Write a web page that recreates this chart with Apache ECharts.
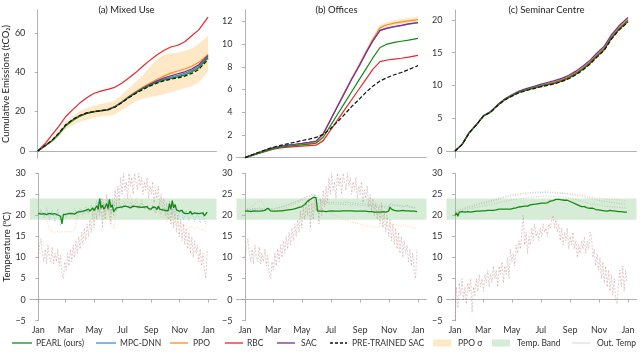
<!DOCTYPE html>
<html><head><meta charset="utf-8">
<script src="https://cdn.jsdelivr.net/npm/echarts@6/dist/echarts.min.js"></script>
<style>html,body{margin:0;padding:0;background:#fff}#c{width:640px;height:353px}</style>
</head><body><div id="c"></div>
<script>
// ---------- DATA ----------
const monthTicks = [0, 59, 120, 181, 243, 304, 365];
const monthLabels = ['Jan', 'Mar', 'May', 'Jul', 'Sep', 'Nov', 'Jan'];
const panelTitles = ['(a) Mixed Use', '(b) Offices', '(c) Seminar Centre'];

// Cumulative emissions, sampled days
const emDays = [0,15,30,45,60,75,90,105,120,135,150,165,180,195,210,225,240,255,270,285,300,315,330,345,365];
// (a) Mixed Use
const a_pearl = [0,2.5,5,8.5,12.8,15.5,17.6,19,19.8,20.3,20.8,22.3,24.6,27.2,29.5,31.6,33.3,34.8,36,36.9,37.6,38.6,40.2,42.3,47.3];
const a_mpc   = [0,2.4,5,8.6,12.9,15.6,17.7,19.1,19.9,20.4,20.9,22.4,24.7,27.3,29.6,31.8,33.6,35.2,36.5,37.5,38.4,39.4,40.9,43.1,47.9];
const a_ppo   = [0,2.5,5.1,8.7,13,15.8,17.9,19.3,20.1,20.6,21.1,22.6,25,27.7,30,32.4,34.4,36.3,38,39.5,40.6,41.6,43,45,49];
const a_rbc   = [0,3.5,8,12.5,17.5,21,24.3,27,29.2,30.4,31.3,32.3,34.4,37,39.8,43,46,48.7,51,52.8,53.7,55.5,58.5,61.5,68];
const a_sac   = [0,2.5,5.1,8.6,12.9,15.7,17.8,19.2,20,20.5,21,22.5,24.8,27.5,29.8,32,33.9,35.6,37,38.2,39.2,40.2,41.6,43.8,48.5];
const a_pre   = [0,2.6,5.3,9,13.3,16,18,19.3,20,20.4,20.8,22.2,24.5,27,29.2,31.2,32.9,34.4,35.6,36.4,37.1,38,39.4,41.4,46.5];
const a_ppoLo = [0,2,4,7,11,13.2,14.8,15.8,16.8,17.5,17.8,18.5,20.6,23,25.2,26.5,27.3,28,28.8,29.8,30.8,31.8,33,34.8,40.3];
const a_ppoHi = [0,3,6.2,10.2,15,17.8,20.2,21.8,23,23.8,24.5,25.8,28.5,31.8,35,38.5,42.5,46.3,48.8,49.5,50,50.8,52,54.5,58.5];
// (b) Offices
const b_pearl = [0,0.2,0.4,0.6,0.8,0.92,1.0,1.07,1.13,1.2,1.27,1.8,2.8,3.8,4.8,5.8,6.8,7.8,8.8,9.7,10.0,10.15,10.25,10.35,10.5];
const b_mpc   = [0,0.24,0.44,0.68,0.86,0.98,1.08,1.16,1.24,1.33,1.43,2.1,3.3,4.5,5.7,6.9,8.0,9.2,10.3,11.2,11.38,11.52,11.63,11.75,11.87];
const b_ppo   = [0,0.22,0.42,0.65,0.82,0.93,1.02,1.1,1.18,1.26,1.36,2.05,3.3,4.55,5.75,6.95,8.1,9.3,10.45,11.45,11.7,11.85,11.95,12.05,12.15];
const b_rbc   = [0,0.2,0.4,0.58,0.75,0.85,0.92,0.98,1.02,1.06,1.1,1.5,2.4,3.3,4.2,5.1,6.0,6.9,7.8,8.45,8.6,8.68,8.75,8.85,9.0];
const b_sac   = [0,0.25,0.45,0.7,0.88,1.0,1.1,1.18,1.26,1.35,1.45,2.1,3.3,4.5,5.7,6.9,8.0,9.2,10.3,11.2,11.4,11.55,11.65,11.78,11.9];
const b_pre   = [0,0.25,0.5,0.72,0.92,1.08,1.22,1.36,1.5,1.63,1.78,2.05,2.55,3.15,3.8,4.5,5.1,5.75,6.3,6.75,7.05,7.3,7.5,7.75,8.1];
const b_ppoLo = [0,0.2,0.39,0.61,0.77,0.88,0.96,1.04,1.11,1.18,1.28,1.95,3.2,4.43,5.62,6.8,7.93,9.1,10.25,11.2,11.45,11.6,11.7,11.8,11.9];
const b_ppoHi = [0,0.24,0.45,0.69,0.87,0.98,1.08,1.16,1.25,1.34,1.44,2.15,3.4,4.67,5.88,7.1,8.27,9.5,10.68,11.7,11.95,12.1,12.2,12.3,12.4];
// (c) Seminar Centre
const c_pearl = [0,1.0,2.8,4.0,5.35,5.95,7.0,7.85,8.45,8.98,9.32,9.62,9.9,10.15,10.4,10.75,11.2,11.8,12.55,13.45,14.55,15.55,17.25,18.55,19.85];
const c_mpc   = [0,1.0,2.8,4.0,5.35,5.95,7.0,7.85,8.46,9.0,9.36,9.66,9.96,10.22,10.48,10.83,11.28,11.9,12.65,13.55,14.65,15.66,17.36,18.66,19.98];
const c_ppo   = [0,1.0,2.8,4.0,5.36,5.97,7.02,7.88,8.5,9.06,9.42,9.73,10.04,10.3,10.56,10.92,11.38,12.0,12.75,13.65,14.75,15.78,17.48,18.8,20.1];
const c_rbc   = [0,1.0,2.78,3.98,5.33,5.92,6.96,7.8,8.4,8.92,9.26,9.55,9.83,10.08,10.32,10.66,11.1,11.7,12.45,13.34,14.44,15.44,17.14,18.44,19.75];
const c_sac   = [0,1.0,2.82,4.03,5.4,6.02,7.08,7.95,8.58,9.14,9.52,9.84,10.16,10.44,10.72,11.08,11.55,12.18,12.95,13.86,14.98,16.0,17.7,19.02,20.35];
const c_pre   = [0,0.98,2.77,3.97,5.32,5.9,6.94,7.77,8.36,8.88,9.2,9.48,9.76,10.0,10.24,10.58,11.02,11.62,12.36,13.25,14.35,15.35,17.05,18.35,19.65];

// Temperatures: day grid every 3 days (PEARL, outdoor) and every 6 days (other agents)
const tDays3 = Array.from({length: 122}, (_, i) => i * 3);
const tDays6 = Array.from({length: 61}, (_, i) => i * 6);
const outTempAB = [10,13,14.5,11,9,12,8.5,13,10,9, 12.5,8.5,11,9,12,8,10.5,6,5,9, 7,11,8,12,9,13,10,14,11,15, 12,16,13,17,14,18,15,19,16,21, 17,22,19,23,20,24,17,23,19,25, 21,23,18,24,20,26,22,27,23,29, 25,30,26,28,24,30,27,29,25,30, 28,26,30,27,29,25,28,26,29,24, 27,25,28,23,26,24,27,22,25,21, 24,20,23,19,22,18,23,17,21,16, 20,15,19,14,18,13,17,12,16,11, 15,10,14,11,13,9,12,8,11,7, 5,12];
const outTempC = [-5,3,-2,4,1,5,0,3,-1,4, 2,5,-3,3,1,5,2,6,3,5, 2,6,4,7,3,6,4,8,5,7, 3,8,6,9,4,8,6,10,5,12, 9,11,8,13,11,14,12,16,20,13, 16,11,15,13,17,14,18,15,16,14, 17,15,18,16,17,15,18,17,19,20, 17,19,16,18,14,17,13,16,14,17, 12,15,13,16,12,14,10,13,11,14, 12,15,11,14,12,16,15,10,12,8, 11,7,10,5,9,4,8,3,7,2, 6,1,5,0,-1,4,7,3,8,2, 7,4];

const ta_pearl = [20.5,20.8,20.3,20.6,20.4,20.7,20.2,20.6,20.5,20.9,20.3,20.6,20.4,20.8,20.1,20.5,19.8,18.0,20.2,20.5,
  20.3,20.6,20.4,20.8,20.5,20.7,20.3,20.6,20.8,20.5,20.9,20.6,21.0,20.7,21.2,20.9,21.5,21.0,21.3,21.8,
  21.2,21.6,22.3,21.4,24.0,21.8,22.4,21.5,22.0,22.8,21.6,23.8,21.9,22.5,20.9,21.3,21.8,21.5,21.9,21.7,
  22.0,21.8,22.2,21.9,22.1,22.3,21.8,22.0,22.2,21.9,22.1,21.8,22.0,22.3,21.9,21.7,22.0,21.8,22.1,21.6,
  21.8,21.5,22.0,21.6,21.9,21.4,22.2,21.5,21.8,21.3,21.7,21.2,21.6,21.1,22.8,21.5,23.5,21.8,22.6,21.3,
  21.6,21.0,20.7,21.2,20.6,20.9,20.4,20.8,20.5,21.0,20.3,20.7,20.6,20.9,20.4,20.8,20.5,20.2,20.6,19.9,20.3,20.8];
const ta_mpc = [20.0,21.5,19.5,21.8,19.0,21.2,18.5,21.5,17.5,20.5, 19.5,21.0,19.8,21.6,20.0,21.8,20.3,22.0,20.5,22.4,
  21.0,23.5,20.8,24.0,21.5,23.8,20.5,23.0,21.2,22.8, 21.5,23.0,22.0,23.2,21.8,22.8,21.5,23.0,21.6,22.5,
  21.0,22.5,20.6,22.0,20.2,21.8,19.8,23.5,20.0,22.5, 19.5,21.5,19.0,21.2,18.8,21.0,18.5,20.8,18.2,20.5,17.8];
const ta_ppo = [20.5,21.0,20.0,19.0,16.5,16.2,16.0,16.1,16.0,16.2, 16.0,16.3,16.1,16.5,19.5,20.5,20.0,21.0,20.5,21.5,
  21.0,22.5,21.5,23.0,20.0,22.0,17.5,16.8,21.5,22.5, 22.5,24.5,23.0,24.8,22.5,24.0,22.0,23.5,21.5,22.0,
  21.0,21.5,20.5,21.0,19.5,20.0,18.5,19.5,18.0,18.5, 17.8,18.2,17.5,17.8,17.0,17.5,16.8,17.2,16.5,16.8,16.2];
const ta_sac = [20.3,20.8,20.1,20.6,19.9,20.4,20.0,20.5,19.7,20.2, 20.0,20.4,20.2,20.6,20.3,20.8,20.5,21.0,20.7,21.2,
  21.0,21.8,21.3,22.2,21.5,22.0,21.2,21.8,21.4,22.0, 21.8,22.3,22.0,22.4,21.9,22.2,21.8,22.1,21.7,22.0,
  21.5,21.8,21.3,21.6,21.1,21.4,20.9,21.8,21.0,21.5, 20.8,21.1,20.6,20.9,20.4,20.7,20.3,20.6,20.2,20.5,20.0];

const tb_pearl = [21.0,21.0,21.1,21.0,20.9,21.0,21.1,21.0,21.0,21.1,21.0,21.0,21.1,21.0,21.2,21.3,21.7,21.3,21.1,21.0,
  21.0,21.1,21.0,21.1,21.1,21.2,21.1,21.2,21.2,21.3,21.3,21.4,21.4,21.5,21.5,21.6,21.7,21.8,21.9,22.0,
  22.1,22.3,22.6,23.0,23.4,23.7,23.8,24.0,24.3,24.5,24.2,21.0,20.9,21.0,20.9,21.0,21.0,20.9,21.0,21.0,
  21.0,21.1,21.0,21.0,21.1,21.0,21.1,21.0,21.2,21.1,21.0,21.1,21.0,21.1,21.0,21.1,21.0,21.0,21.1,21.0,
  21.0,21.0,20.9,21.0,20.9,21.0,20.9,20.9,21.0,20.9,20.9,20.8,20.9,20.8,20.9,20.8,20.8,20.9,20.8,20.8,
  20.8,21.0,22.0,21.5,21.3,21.2,21.2,21.1,21.2,21.1,21.1,21.2,21.1,21.1,21.0,21.1,21.0,21.0,21.1,21.0,21.0,20.9];
const tb_mpc = [21.3,21.6,21.4,21.7,21.5,21.8,21.6,21.5,21.7,21.6, 21.5,21.8,21.9,22.1,22.3,22.6,22.8,23.1,23.3,23.6,
  23.9,24.2,24.5,24.8,25.0,24.7,24.0,23.6,23.3,23.2, 23.0,23.2,23.0,23.1,22.9,23.0,23.2,22.9,23.0,22.8,
  22.9,22.7,22.8,22.6,22.7,22.5,22.4,22.5,22.3,22.2, 22.0,22.8,22.6,22.4,22.5,22.3,22.2,22.4,22.1,22.0,21.8];
const tb_ppo = [21.0,21.5,22.0,22.5,23.0,23.5,23.2,22.0,21.5,21.0, 20.8,21.0,21.2,21.5,21.8,22.0,22.3,22.6,22.9,23.2,
  23.5,23.8,24.0,23.5,22.5,22.0,21.5,21.2,21.0,20.8, 20.5,20.2,19.9,19.6,19.3,19.0,18.8,18.6,18.4,18.2,
  18.0,17.8,17.6,17.5,17.3,17.2,17.1,17.3,17.5,17.8, 18.0,17.8,17.7,17.9,17.6,17.5,17.8,17.4,17.3,17.1,16.9];
const tb_sac = [21.2,21.4,21.3,21.5,21.4,21.6,21.5,21.4,21.6,21.5, 21.4,21.6,21.8,22.0,22.2,22.4,22.7,23.0,23.2,23.5,
  23.8,24.1,24.4,24.6,24.8,24.5,23.6,23.0,22.7,22.8, 22.6,22.8,22.5,22.7,22.6,22.5,22.7,22.4,22.6,22.4,
  22.5,22.3,22.4,22.2,22.3,22.1,22.0,22.1,21.9,21.8, 21.6,22.5,22.3,22.2,22.3,22.0,22.1,22.2,21.9,21.8,21.6];

const tc_pearl = [20.0,20.6,19.8,20.8,20.5,20.9,20.6,20.8,20.7,20.9,20.6,20.8,20.7,20.9,20.8,21.0,20.8,21.0,20.9,21.1,
  21.0,21.1,21.0,21.2,21.1,21.2,21.3,21.2,21.4,21.3,21.4,21.5,21.4,21.5,21.4,21.5,21.6,21.5,21.6,21.5,
  21.6,21.7,21.6,21.8,21.9,22.0,21.9,22.1,22.0,22.2,22.3,22.2,22.4,22.5,22.4,22.6,22.5,22.7,22.6,22.8,
  22.8,22.9,23.0,22.9,23.1,23.0,23.2,23.4,23.3,23.5,23.7,23.8,23.7,23.8,23.9,23.7,23.8,23.6,23.5,23.6,
  23.4,23.3,23.1,23.0,22.8,22.7,22.5,22.4,22.3,22.1,22.0,22.1,21.9,21.8,21.9,21.7,21.6,21.7,21.5,21.4,
  21.5,21.3,21.4,21.2,21.3,21.1,21.2,21.0,21.1,21.2,21.0,21.1,20.9,21.0,21.1,20.9,21.0,20.9,21.0,20.8,20.9,20.8];
const tc_ppo = [21.0,21.3,21.5,21.8,22.0,22.2,22.4,22.6,22.8,23.0, 23.1,23.3,23.5,23.6,23.8,24.0,24.2,24.4,24.6,24.8,
  24.9,25.0,25.1,25.2,25.3,25.4,25.4,25.5,25.5,25.6, 25.6,25.6,25.7,25.6,25.6,25.5,25.5,25.4,25.4,25.3,
  25.2,25.2,25.1,25.0,24.9,24.8,24.7,24.5,24.4,24.3, 24.2,24.1,24.0,23.9,23.9,23.8,23.8,23.7,23.7,23.6,23.6];
const tc_mpc = [20.8,21.1,21.3,21.5,21.7,21.9,22.1,22.3,22.5,22.7, 22.8,23.0,23.2,23.4,23.6,23.8,24.0,24.2,24.4,24.6,
  24.7,24.8,24.9,25.0,25.1,25.1,25.2,25.3,25.3,25.4, 25.4,25.4,25.5,25.4,25.4,25.3,25.3,25.2,25.2,25.1,
  25.0,24.9,24.8,24.7,24.6,24.5,24.3,24.2,24.0,23.9, 23.7,23.6,23.4,23.3,23.2,23.1,23.0,22.9,22.8,22.7,22.6];
const tc_sac = [20.6,20.8,21.0,21.2,21.3,21.5,21.7,21.8,22.0,22.1, 22.2,22.4,22.5,22.7,22.8,23.0,23.1,23.3,23.4,23.6,
  23.7,23.8,23.9,24.0,24.1,24.2,24.3,24.3,24.4,24.5, 24.5,24.6,24.6,24.6,24.5,24.5,24.4,24.4,24.3,24.2,
  24.1,24.0,23.9,23.7,23.5,23.3,23.1,23.0,22.8,22.6, 22.5,22.4,22.3,22.2,22.1,22.0,22.0,21.9,21.9,21.8,21.8];

const tempBand = [19, 24];
const emTicks = [[0,20,40,60],[0,2,4,6,8,10,12],[0,5,10,15,20]];
const emRange = [[-3.6,71.6],[-0.03,13.0],[-1.07,21.5]];

// ---------- STYLE ----------
const FONT = 'Lato';
const C = {pearl:'#128a12', mpc:'#3a8ed4', ppo:'#ff8c1a', rbc:'#e8262a', sac:'#7a2aa6', pre:'#111111',
  ppoBand:'rgba(253,210,140,0.5)', tBand:'rgba(150,205,150,0.38)', out:'rgba(175,110,110,0.5)'};
const lefts = [26.5, 236.5, 446.5];
const W = 190;

const zip = (xs, ys) => xs.map((x, i) => [x, ys[i]]);

const grids = [], xAxes = [], yAxes = [], series = [];
const axisLineStyle = {color: '#a0a0a0', width: 0.8};
const lbl = {color: '#333', fontFamily: FONT, fontSize: 9};

for (let p = 0; p < 3; p++) {
  grids.push({left: lefts[p], top: 10, width: W, height: 148});
  grids.push({left: lefts[p], top: 173.3, width: W, height: 147.4});
}
for (let g = 0; g < 6; g++) {
  const bottom = g % 2 === 1;
  const p = Math.floor(g / 2);
  xAxes.push({type: 'value', gridIndex: g, min: -18, max: 383,
    axisLine: {show: true, lineStyle: axisLineStyle}, splitLine: {show: false},
    axisTick: {show: bottom, length: 3, lineStyle: axisLineStyle, customValues: monthTicks},
    axisLabel: bottom ? Object.assign({show: true, margin: 5, customValues: monthTicks,
      formatter: v => monthLabels[monthTicks.indexOf(v)]}, lbl) : {show: false}
  });
  const yBase = {type: 'value', gridIndex: g, splitLine: {show: false},
    axisLine: {show: true, lineStyle: axisLineStyle},
    axisTick: {show: true, length: 3, lineStyle: axisLineStyle},
    axisLabel: Object.assign({margin: 4}, lbl)};
  if (bottom) {
    Object.assign(yBase, {min: -5, max: 30, interval: 5});
    yBase.axisLabel.formatter = v => v < 0 ? '\u2212' + (-v) : String(v);
    if (p === 0) Object.assign(yBase, {name: 'Temperature ({s|o}C)', nameLocation: 'middle', nameGap: 15,
      nameTextStyle: {fontFamily: FONT, fontSize: 9.5, color: '#222', rich: {s: {fontSize: 6, verticalAlign: 'top', padding: [0,0,5,0], fontFamily: FONT, color: '#222'}}}});
  } else {
    Object.assign(yBase, {min: emRange[p][0], max: emRange[p][1]});
    yBase.axisTick.customValues = emTicks[p];
    yBase.axisLabel.customValues = emTicks[p];
    if (p === 0) Object.assign(yBase, {name: 'Cumulative Emissions (tCO\u2082)', nameLocation: 'middle', nameGap: 15,
      nameTextStyle: {fontFamily: FONT, fontSize: 9.5, color: '#222'}});
  }
  yAxes.push(yBase);
}

function line(name, g, xs, ys, color, opts = {}) {
  return {name, type: 'line', xAxisIndex: g, yAxisIndex: g, data: zip(xs, ys),
    showSymbol: false, symbol: 'none', animation: false, silent: true,
    lineStyle: {color, width: opts.width || 1.2, type: opts.type || 'solid', opacity: opts.opacity == null ? 1 : opts.opacity},
    itemStyle: {color}, z: opts.z || 2};
}
// shaded band between lo and hi, drawn as one polygon through the axes' own coordinate mapping
function band(name, g, xs, lo, hi, color) {
  return {name, type: 'custom', xAxisIndex: g, yAxisIndex: g, silent: true, animation: false, z: 1,
    data: xs.map((x, i) => [x, lo[i], hi[i]]), encode: {x: 0, y: [1, 2]},
    renderItem: (params, api) => {
      if (params.dataIndex !== 0) return null;
      const up = xs.map((x, i) => api.coord([x, hi[i]]));
      const dn = xs.map((x, i) => api.coord([x, lo[i]])).reverse();
      return {type: 'polygon', shape: {points: up.concat(dn)}, style: {fill: color}};
    }};
}

const em = [
  {pearl: a_pearl, mpc: a_mpc, ppo: a_ppo, rbc: a_rbc, sac: a_sac, pre: a_pre, lo: a_ppoLo, hi: a_ppoHi},
  {pearl: b_pearl, mpc: b_mpc, ppo: b_ppo, rbc: b_rbc, sac: b_sac, pre: b_pre, lo: b_ppoLo, hi: b_ppoHi},
  {pearl: c_pearl, mpc: c_mpc, ppo: c_ppo, rbc: c_rbc, sac: c_sac, pre: c_pre, lo: null, hi: null}
];
const temps = [
  {out: outTempAB, pearl: ta_pearl, mpc: ta_mpc, ppo: ta_ppo, sac: ta_sac},
  {out: outTempAB, pearl: tb_pearl, mpc: tb_mpc, ppo: tb_ppo, sac: tb_sac},
  {out: outTempC, pearl: tc_pearl, mpc: tc_mpc, ppo: tc_ppo, sac: tc_sac}
];

for (let p = 0; p < 3; p++) {
  const g = p * 2, e = em[p];
  if (e.lo) series.push(band('PPO \u03c3', g, emDays, e.lo, e.hi, C.ppoBand));
  series.push(line('MPC-DNN', g, emDays, e.mpc, C.mpc, {z: 3}));
  series.push(line('PPO', g, emDays, e.ppo, C.ppo, {z: 3}));
  series.push(line('RBC', g, emDays, e.rbc, C.rbc, {z: 4}));
  series.push(line('SAC', g, emDays, e.sac, C.sac, {z: 4}));
  series.push(line('PEARL (ours)', g, emDays, e.pearl, C.pearl, {z: 5}));
  series.push(line('PRE-TRAINED SAC', g, emDays, e.pre, C.pre, {type: [4, 2], z: 6}));

  const gb = g + 1, t = temps[p];
  series.push({name: 'Temp. Band', type: 'line', xAxisIndex: gb, yAxisIndex: gb, data: [],
    itemStyle: {color: C.tBand}, lineStyle: {width: 0}, symbol: 'none', animation: false, silent: true, z: 0,
    markArea: {silent: true, itemStyle: {color: C.tBand}, data: [[{yAxis: tempBand[0]}, {yAxis: tempBand[1]}]]}});
  series.push(line('Out. Temp', gb, tDays3, t.out, C.out, {width: 0.7, type: [2, 1.5], z: 1}));
  series.push(line('PPO', gb, tDays6, t.ppo, C.ppo, {width: 0.7, type: [1, 1.5], opacity: 0.55, z: 2}));
  series.push(line('MPC-DNN', gb, tDays6, t.mpc, C.mpc, {width: 0.7, type: [1, 1.5], opacity: 0.55, z: 2}));
  series.push(line('SAC', gb, tDays6, t.sac, '#888888', {width: 0.7, type: [1, 1.5], opacity: 0.55, z: 2}));
  series.push(line('PEARL (ours)', gb, tDays3, t.pearl, C.pearl, {width: 1.3, z: 5}));
}

const titles = panelTitles.map((txt, p) => ({text: txt, left: lefts[p] + W / 2, top: 0, textAlign: 'center',
  textStyle: {fontFamily: FONT, fontSize: 9.5, fontWeight: 'normal', color: '#222'}}));

// Legend (drawn as graphic so its layout matches the reference row)
const legendItems = [
  {name: 'PEARL (ours)', kind: 'line', color: C.pearl, x0: 12, x1: 32, tx: 36},
  {name: 'MPC-DNN', kind: 'line', color: C.mpc, x0: 96, x1: 116, tx: 120},
  {name: 'PPO', kind: 'line', color: C.ppo, x0: 170, x1: 188, tx: 193},
  {name: 'RBC', kind: 'line', color: C.rbc, x0: 225, x1: 243, tx: 247},
  {name: 'SAC', kind: 'line', color: C.sac, x0: 277, x1: 295, tx: 301},
  {name: 'PRE-TRAINED SAC', kind: 'dash', color: C.pre, x0: 330, x1: 347, tx: 352},
  {name: 'PPO \u03c3', kind: 'rect', color: C.ppoBand, x0: 433, x1: 451, tx: 458},
  {name: 'Temp. Band', kind: 'rect', color: C.tBand, x0: 492, x1: 510, tx: 517},
  {name: 'Out. Temp', kind: 'out', color: 'rgba(200,140,140,0.55)', x0: 572, x1: 590, tx: 597}
];
const LY = 343;
const graphic = [];
legendItems.forEach(it => {
  if (it.kind === 'rect') {
    graphic.push({type: 'rect', shape: {x: it.x0, y: LY - 3.5, width: it.x1 - it.x0, height: 7}, style: {fill: it.color}, silent: true});
  } else {
    graphic.push({type: 'line', shape: {x1: it.x0, y1: LY, x2: it.x1, y2: LY}, silent: true,
      style: {stroke: it.color, lineWidth: it.kind === 'out' ? 0.8 : 1.3, lineDash: it.kind === 'dash' ? [3, 2] : null}});
  }
  graphic.push({type: 'text', x: it.tx, y: LY, silent: true,
    style: {text: it.name, fill: '#333', font: '8.5px ' + FONT, textVerticalAlign: 'middle', verticalAlign: 'middle'}});
});

const chart = echarts.init(document.getElementById('c'), null, {renderer: 'canvas'});
chart.setOption({
  animation: false,
  backgroundColor: '#fff',
  title: titles,
  grid: grids, xAxis: xAxes, yAxis: yAxes, series, graphic
});
</script></body></html>
